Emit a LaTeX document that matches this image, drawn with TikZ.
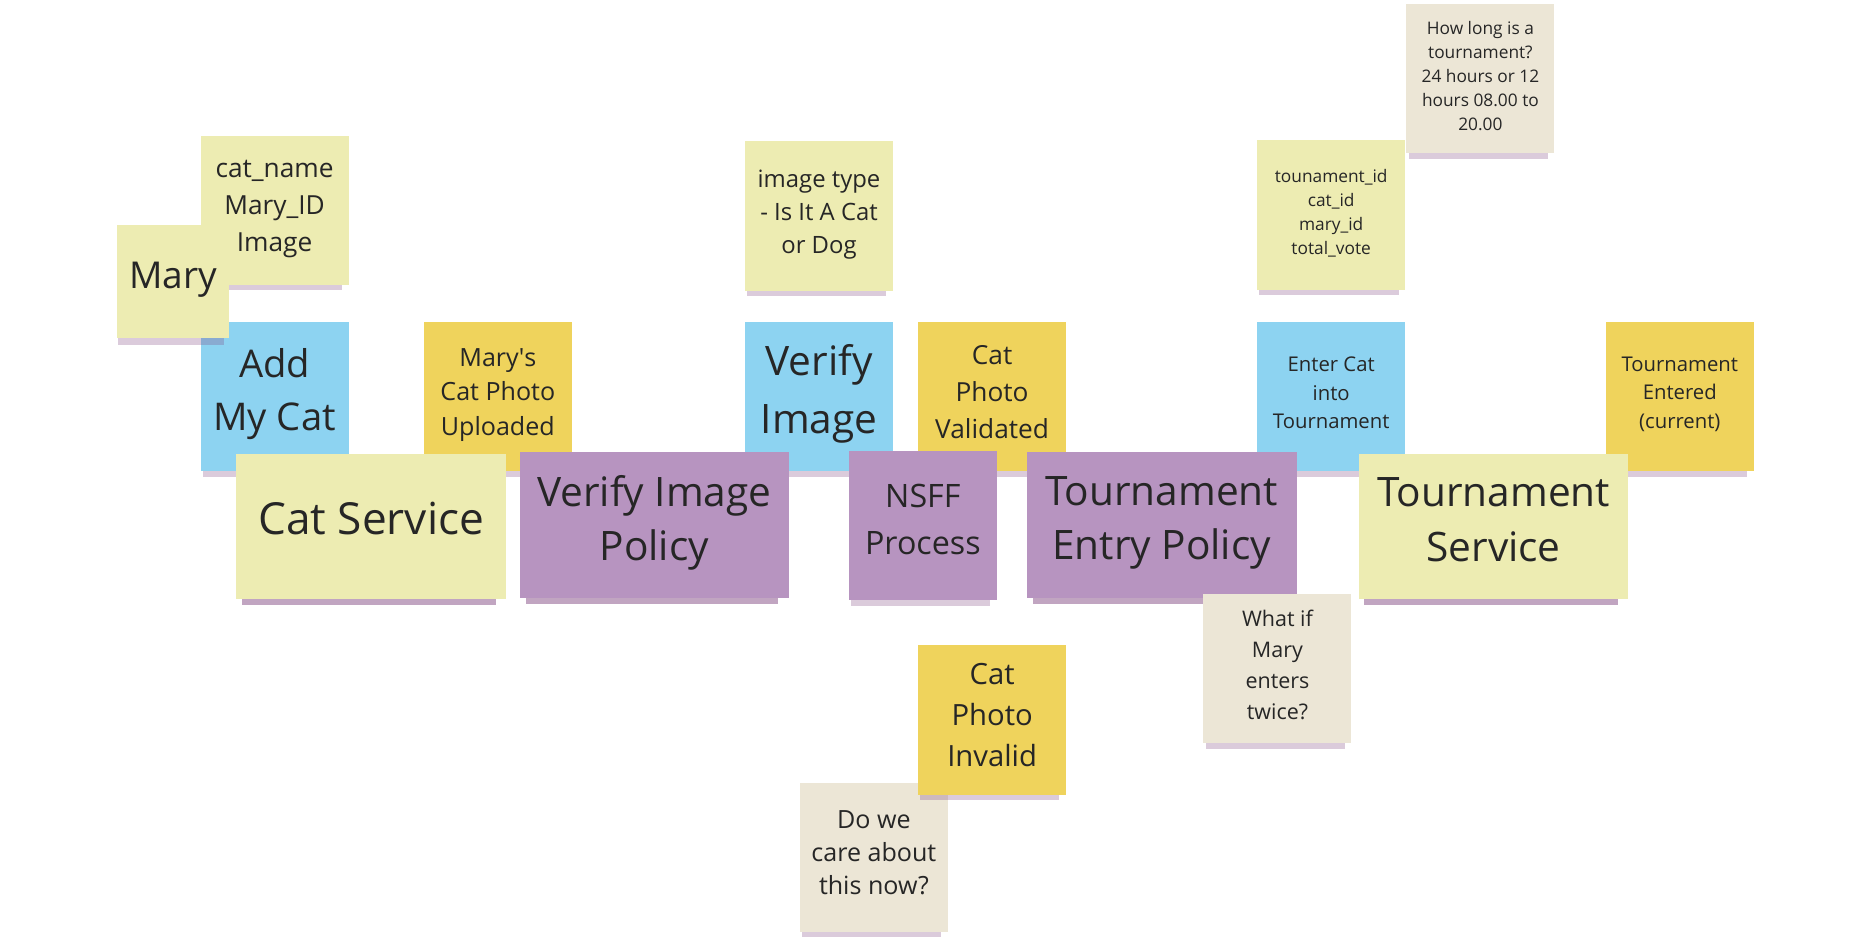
\documentclass[tikz,border=0pt]{standalone}
\usepackage{fontspec}
\setmainfont{Open Sans}
\newfontfamily\plainquote{Open Sans}
\usetikzlibrary{shadows}

\definecolor{pale}{HTML}{EDECB2}
\definecolor{sky}{HTML}{8DD3F1}
\definecolor{event}{HTML}{EFD35C}
\definecolor{policy}{HTML}{B794C0}
\definecolor{query}{HTML}{ECE6D6}
\definecolor{ink}{HTML}{262626}

\tikzset{
  sticky/.style={minimum width=124, minimum height=125, inner sep=0pt, align=center, text=ink,
    execute at end node={\vrule width 0pt height 0pt depth .36em},
    drop shadow={shadow xshift=-2pt, shadow yshift=-9pt, shadow scale=.94, opacity=.28, fill=violet!45!gray}},
  wide/.style={sticky, minimum width=226, minimum height=122},
  info/.style={sticky, fill=pale},
  ask/.style={sticky, fill=query},
  cmd/.style={sticky, fill=sky},
  evt/.style={sticky, fill=event},
  pol/.style={sticky, fill=policy},
}

\begin{document}
\begin{tikzpicture}[x=1pt,y=-1pt]
    \fill[white] (0,0) rectangle (1568,792);

    % details and questions above the timeline
    \node[ask,font=\fontsize{14.5}{20}\selectfont] (howlong) at (1240,66) {How long is a\\tournament?\\24 hours or 12\\hours 08.00 to\\20.00};
    \node[info,font=\fontsize{22}{31}\selectfont] (catattr) at (230,176) {cat\_name\\Mary\_ID\\Image};
    \node[info,font=\fontsize{20}{27.5}\selectfont] (imgtype) at (686,181) {image type\\- Is It A Cat\\or Dog};
    \node[info,font=\fontsize{14.5}{20}\selectfont] (tourattr) at (1115,180) {tounament\_id\\cat\_id\\mary\_id\\total\_vote};

    % commands and events
    \node[cmd,font=\fontsize{32}{45}\selectfont] (addcat) at (230,332) {Add\\My Cat};
    \node[info,minimum width=94,minimum height=95,font=\fontsize{31}{40}\selectfont] (mary) at (145,236) {Mary};
    \node[evt,font=\fontsize{21}{29}\selectfont] (uploaded) at (417,332) {Mary{\plainquote'}s\\Cat Photo\\Uploaded};
    \node[cmd,font=\fontsize{34}{49}\selectfont] (verify) at (686,332) {Verify\\Image};
    \node[evt,font=\fontsize{22}{31}\selectfont] (validated) at (831,332) {Cat\\Photo\\Validated};
    \node[cmd,font=\fontsize{17}{24}\selectfont] (entercat) at (1115,332) {Enter Cat\\into\\Tournament};
    \node[evt,font=\fontsize{17}{24}\selectfont] (entered) at (1407,332) {Tournament\\Entered\\(current)};

    % services and policies
    \node[info,wide,font=\fontsize{37}{46}\selectfont] (catsvc) at (311,441) {Cat Service};
    \node[pol,wide,minimum width=225,font=\fontsize{34}{46}\selectfont] (verpolicy) at (548,440) {Verify Image\\Policy};
    \node[pol,font=\fontsize{27}{39}\selectfont] (nsff) at (773,440) {NSFF\\Process};
    \node[pol,wide,font=\fontsize{34}{46}\selectfont] (tourpolicy) at (973,440) {Tournament\\Entry Policy};
    \node[info,wide,font=\fontsize{34}{46}\selectfont] (toursvc) at (1251,441) {Tournament\\Service};

    % below the timeline
    \node[ask,font=\fontsize{18}{26}\selectfont] (twice) at (1070,560) {What if\\Mary\\enters\\twice?};
    \node[ask,font=\fontsize{21}{27.5}\selectfont] (docare) at (732,718) {Do we\\care about\\this now?};
    \node[evt,font=\fontsize{24.5}{34.5}\selectfont] (invalid) at (831,603) {Cat\\Photo\\Invalid};
\end{tikzpicture}
\end{document}
